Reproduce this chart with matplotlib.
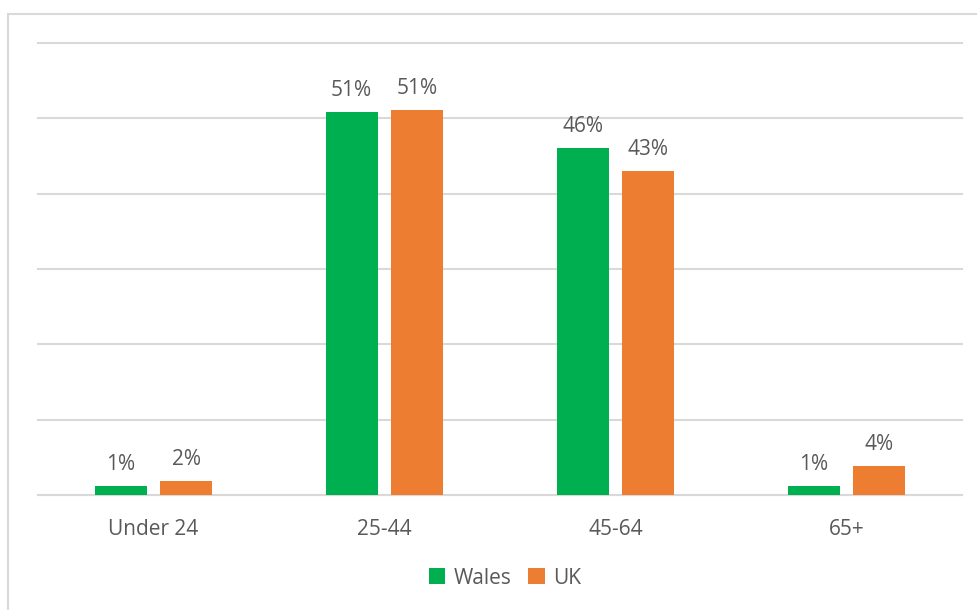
import matplotlib.pyplot as plt
import numpy as np
from matplotlib.patches import Rectangle

categories = ["Under 24", "25-44", "45-64", "65+"]
wales = [1.2, 50.8, 46.1, 1.2]
uk = [1.9, 51.1, 43.0, 3.9]
wales_labels = ["1%", "51%", "46%", "1%"]
uk_labels = ["2%", "51%", "43%", "4%"]

green = "#00B050"
orange = "#ED7D31"
text_color = "#595959"
grid_color = "#D9D9D9"

plt.rcParams['font.family'] = ['Open Sans', 'DejaVu Sans']

fig = plt.figure(figsize=(9.78, 6.1), dpi=100)
ax = fig.add_axes([38 / 978, (610 - 495) / 610, (962 - 38) / 978, (495 - 43) / 610])

x = np.arange(len(categories))
w = 0.225
off = 0.1425
b1 = ax.bar(x - off, wales, w, color=green, label="Wales", zorder=3)
b2 = ax.bar(x + off, uk, w, color=orange, label="UK", zorder=3)

for bars, labels in [(b1, wales_labels), (b2, uk_labels)]:
    for rect, lab in zip(bars, labels):
        ax.annotate(lab, (rect.get_x() + rect.get_width() / 2, rect.get_height()),
                    xytext=(0, 8), textcoords="offset points", ha="center", va="bottom",
                    fontsize=15, color=text_color)

ax.set_xlim(-0.5, 3.5)
ax.set_ylim(0, 60)
ax.set_yticks(np.arange(0, 61, 10))
ax.set_yticklabels([])
ax.tick_params(axis="y", length=0)
ax.tick_params(axis="x", length=0, pad=17, labelsize=15, labelcolor=text_color)
ax.set_xticks(x)
ax.set_xticklabels(categories)
ax.grid(axis="y", color=grid_color, linewidth=1.5, zorder=0)
for line in ax.get_ygridlines():
    line.set_clip_on(False)
for s in ["top", "right", "left"]:
    ax.spines[s].set_visible(False)
ax.spines["bottom"].set_color(grid_color)
ax.spines["bottom"].set_linewidth(1.5)

leg = fig.legend(loc="center", bbox_to_anchor=(505 / 978, (610 - 578) / 610), ncol=2, frameon=False,
                 fontsize=15, handlelength=0.8, handleheight=0.8, handletextpad=0.4,
                 columnspacing=0.8)
for t in leg.get_texts():
    t.set_color(text_color)

# outer chart frame
fig.patches.append(Rectangle((8 / 978, -0.05), 1.0, (610 - 14) / 610 + 0.05,
                             transform=fig.transFigure, fill=False,
                             edgecolor=grid_color, linewidth=1.5))

fig.savefig("out.png", dpi=100)
